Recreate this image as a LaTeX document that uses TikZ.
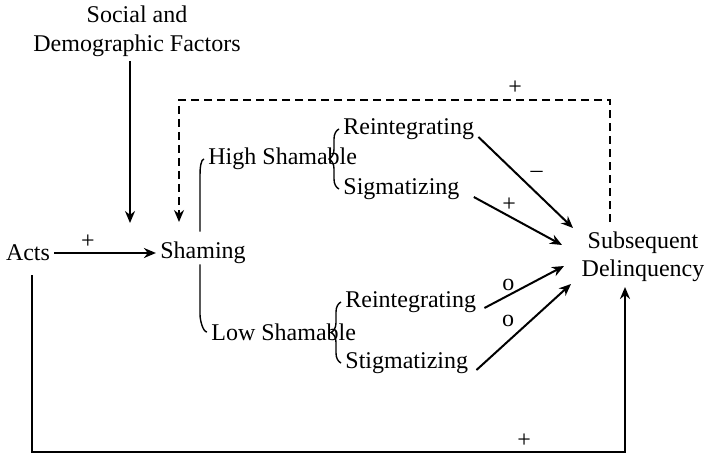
\documentclass[tikz,border=0pt]{standalone}
\usepackage{fontspec}
\setmainfont{Liberation Serif}
\usepackage{tikz}
\usetikzlibrary{arrows.meta,positioning,decorations.pathreplacing}

\begin{document}
\begin{tikzpicture}[
    x=0.5pt, y=-0.5pt,
    every node/.style={font=\fontsize{12}{14.5}\selectfont,inner sep=2pt},
    factor/.style={align=center},
    branch/.style={anchor=west},
    outcome/.style={align=center,font=\fontsize{12}{14}\selectfont},
    arrow/.style={-{Stealth[length=6pt,width=5pt]},line width=1pt},
    feedback/.style={arrow,dash pattern=on 4pt off 2.5pt},
    hookline/.style={line width=0.7pt},
    split/.style={line width=0.7pt,decorate,decoration={brace,amplitude=5pt}}
]
\useasboundingbox (0,0) rectangle (704,454);

\node[factor] (social) at (137,31) {Social and\\Demographic Factors};
\node (acts) at (28,253) {Acts};
\node (shaming) at (203,253) {Shaming};
\node[branch] (high) at (204,159) {High Shamable};
\node[branch] (low) at (207,332) {Low Shamable};
\node[branch] (hreint) at (339,129) {Reintegrating};
\node[branch] (hstig) at (339,189) {Sigmatizing};
\node[branch] (lreint) at (341,302) {Reintegrating};
\node[branch] (lstig) at (341,363) {Stigmatizing};
\node[outcome] (delinq) at (643,257) {Subsequent\\Delinquency};

% arrow ends at the outcome
\coordinate (socin) at (130,223);
\coordinate (fbout) at (610,222);
\coordinate (fbin) at (179,222);
\coordinate (in1) at (573,228);
\coordinate (in2) at (562,245);
\coordinate (in3) at (564,266);
\coordinate (in4) at (571,284);
\coordinate (corner) at (625,452);
\coordinate (dbot) at (625,287);

\draw[arrow] (social.south -| socin) -- (socin);
\draw[arrow] (acts) -- node[pos=0.33,above] {+} (shaming);
\draw[feedback] (fbout) -- ++(0,-122) -| node[pos=0.11,above] {+} (fbin);

\draw[hookline] ([xshift=-1.5pt,yshift=3pt]shaming.north) -- ++(0,-57) .. controls +(0,-7) and +(-3,0) .. (high.west);
\draw[hookline] ([xshift=-1.5pt,yshift=2pt]shaming.south) -- ++(0,50) .. controls +(0,6) and +(-4,0) .. (low.west);
\draw[split] (hstig.west) -- (hreint.west);
\draw[split] (lstig.west) -- (lreint.west);

\draw[arrow] ([yshift=-4pt]hreint.east) -- node[pos=0.5,above right] {--} (in1);
\draw[arrow] ([xshift=5pt,yshift=-4pt]hstig.east) -- node[pos=0.4,above] {+} (in2);
\draw[arrow] ([xshift=2pt,yshift=-3pt]lreint.east) -- node[pos=0.3,above] {o} (in3);
\draw[arrow] ([xshift=2pt,yshift=-3.5pt]lstig.east) -- node[pos=0.45,above left] {o} (in4);

\draw[arrow] ([xshift=2pt,yshift=-5pt]acts.south) |- node[pos=0.915,above] {+} (corner) -- (dbot);
\end{tikzpicture}
\end{document}
